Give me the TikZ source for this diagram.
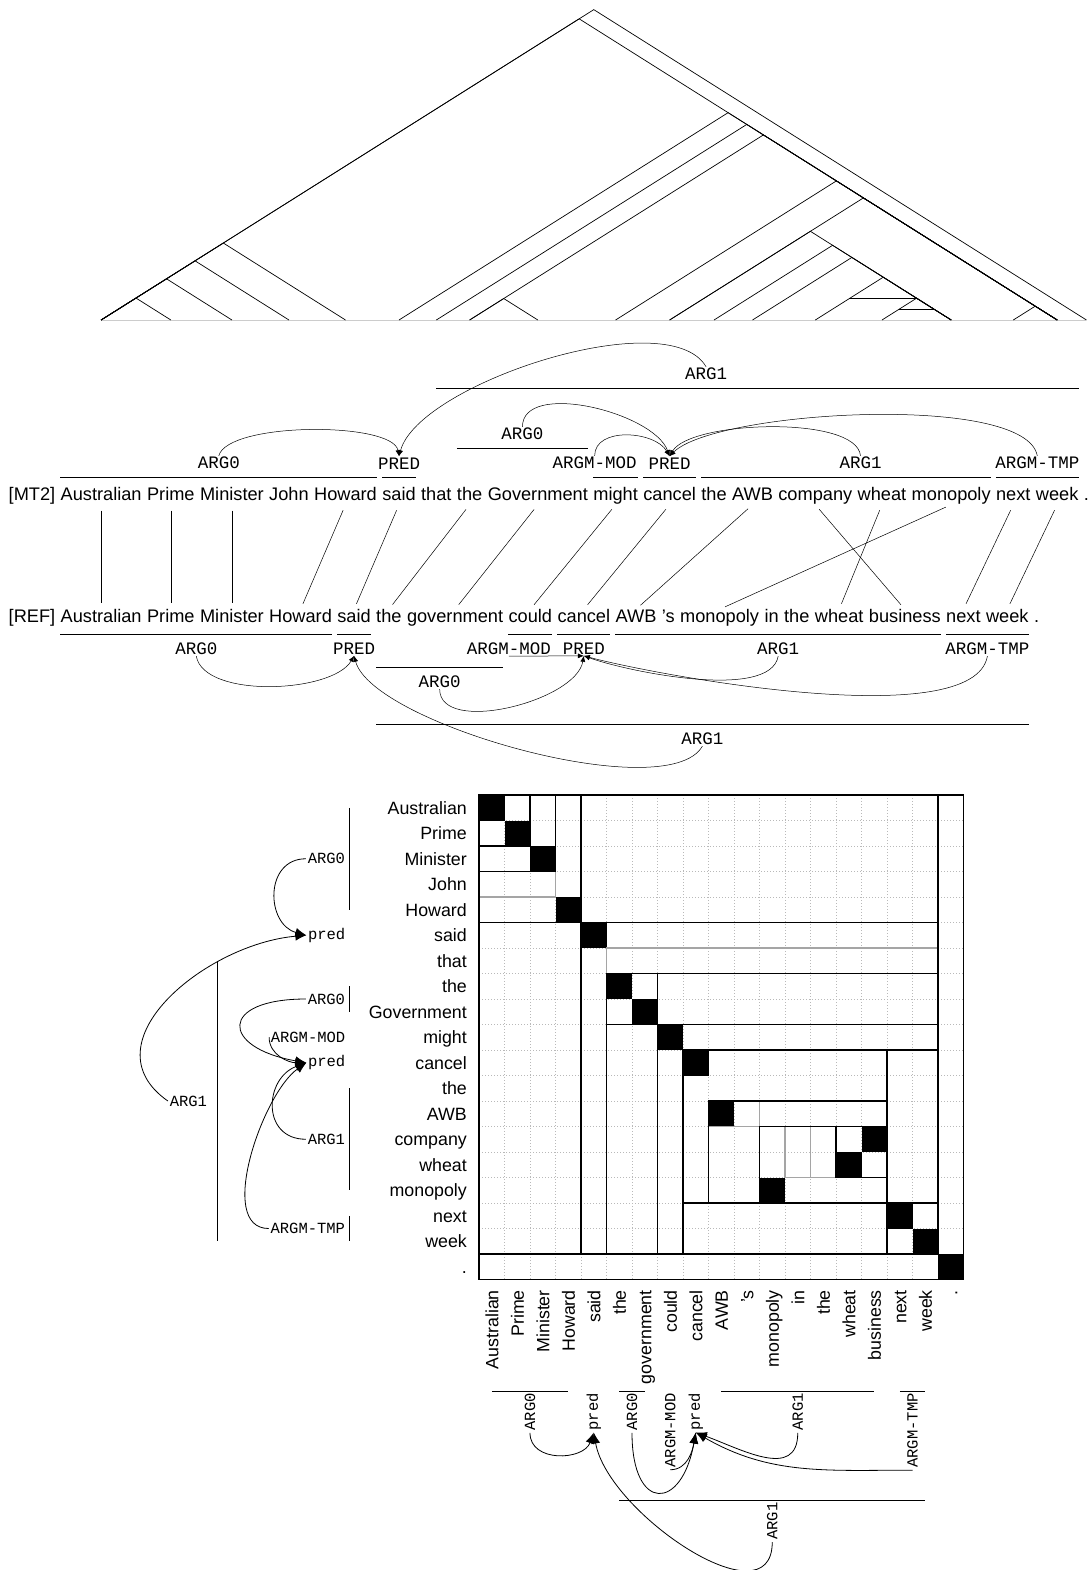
\documentclass[tikz,border=0pt]{standalone}
\usepackage{fontspec}
\setmainfont{Liberation Sans}
\setmonofont{Liberation Mono}
\usetikzlibrary{positioning,arrows.meta,calc}
\definecolor{gridgray}{RGB}{185,185,185}
\definecolor{boxgray}{RGB}{165,165,165}
\newcommand{\wordfont}{\fontsize{18.2pt}{20pt}\selectfont}
\newcommand{\rowfont}{\fontsize{17.8pt}{20pt}\selectfont}
\newcommand{\labfont}{\ttfamily\fontsize{17.5pt}{20pt}\selectfont}
\newcommand{\mlabfont}{\ttfamily\fontsize{15.5pt}{18pt}\selectfont}
\newcommand{\wsp}{5.06pt}
\newcommand{\subtree}[2]{\draw[treeline] let \p1=(t#1), \p2=(t#2) in (\p1) -- ({(\x1+\x2)/2},{\y1+0.63*(\x2-\x1)/2}) -- (\p2);}
\newcommand{\invtree}[2]{\subtree{#1}{#2}
  \draw[treeline] let \p1=(t#1), \p2=(t#2) in ({\x1+(\x2-\x1)/4},{\y1+0.63*(\x2-\x1)/4}) -- ({\x2-(\x2-\x1)/4},{\y1+0.63*(\x2-\x1)/4});}

\begin{document}
\begin{tikzpicture}[x=1pt, y=1pt,
    word/.style={font=\wordfont, inner sep=0pt, text height=13pt, text depth=4pt},
    lab/.style={font=\labfont, inner sep=1pt},
    mlab/.style={font=\mlabfont, inner sep=1.5pt},
    mrot/.style={font=\mlabfont, inner sep=2pt, rotate=90, anchor=east},
    rowlab/.style={font=\rowfont, inner sep=0pt, anchor=east, text height=13pt, text depth=0pt},
    collab/.style={font=\rowfont, inner sep=0pt, rotate=90, anchor=east, text height=13pt, text depth=0pt},
    span/.style={line width=0.8pt},
    treeline/.style={line width=0.7pt},
    align/.style={line width=0.5pt, shorten <=6pt, shorten >=6pt},
    arr/.style={-{Latex[length=6pt,width=5pt]}, line width=0.5pt},
    bigarr/.style={-{Latex[length=11pt,width=9pt]}, line width=0.8pt},
    gridline/.style={gridgray, dash pattern=on 1pt off 2pt, line width=0.5pt},
    blk/.style={line width=1.3pt},
    gblk/.style={boxgray, line width=1.3pt}]
  \useasboundingbox (0,0) rectangle (1088,-1570);

  \node[word, anchor=base west] (m0) at (8.5,-500.5) {[MT2]};
  \foreach \w [count=\i, remember=\i as \j (initially 0)] in {Australian,Prime,Minister,John,Howard,said,that,the,Government,might,cancel,the,AWB,company,wheat,monopoly,next,week,.}
    \node[word, base right=\wsp of m\j] (m\i) {\w};
  \node[word, anchor=base west] (r0) at (8.5,-622.5) {[REF]};
  \foreach \w [count=\i, remember=\i as \j (initially 0)] in {Australian,Prime,Minister,Howard,said,the,government,could,cancel,AWB,'s,monopoly,in,the,wheat,business,next,week,.}
    \node[word, base right=\wsp of r\j] (r\i) {\w};

  \foreach \a/\b in {1/1,2/2,3/3,5/4,6/5,8/6,9/7,10/8,11/9,13/10,14/16,15/15,16/12,17/17,18/18}
    \draw[align] (m\a.south) -- (r\b.north);

  \coordinate (base) at (0,-320);
  \foreach \i in {1,...,19}
    \coordinate (t\i) at (m\i |- base);
  \draw[gray!40, line width=0.8pt] (t1) -- (t19);
  \subtree{1}{19} \subtree{1}{18} \subtree{1}{5} \subtree{1}{4} \subtree{1}{3} \subtree{1}{2}
  \subtree{6}{18} \subtree{7}{18} \subtree{8}{18} \subtree{8}{9} \subtree{10}{18} \subtree{11}{18}
  \subtree{11}{16} \subtree{12}{16} \subtree{13}{16} \invtree{14}{16} \invtree{15}{16} \subtree{17}{18}

  \draw[span] ([yshift=23pt]m1.base west) -- ([yshift=23pt]m5.base east) node[midway, above=7pt, lab] (mta0) {ARG0};
  \draw[span] ([yshift=23pt]m6.base west) -- ([yshift=23pt]m6.base east) node[midway, above=7pt, lab] (mtp1) {PRED};
  \draw[span] ([yshift=112pt]m7.base) -- ([yshift=112pt]m18.base east) node[pos=0.42, above=7pt, lab] (mtA1) {ARG1};
  \draw[span] ([yshift=52pt]m8.base west) -- ([yshift=52pt]m9.base east) node[midway, above=7pt, lab] (mtb0) {ARG0};
  \draw[span] ([yshift=23pt]m10.base west) -- ([yshift=23pt]m10.base east) node[pos=1, anchor=south east, yshift=7pt, lab] (mtmod) {ARGM-MOD};
  \draw[span] ([yshift=23pt]m11.base west) -- ([yshift=23pt]m11.base east) node[midway, above=7pt, lab] (mtp2) {PRED};
  \draw[span] ([yshift=23pt]m12.base west) -- ([yshift=23pt]m16.base east) node[pos=0.55, above=7pt, lab] (mta1) {ARG1};
  \draw[span] ([yshift=23pt]m17.base west) -- ([yshift=23pt]m18.base east) node[midway, above=7pt, lab] (mttmp) {ARGM-TMP};
  \draw[arr] (mta0.north) to[out=75, in=100, looseness=0.5] (mtp1.north);
  \draw[arr] (mtA1.north) to[out=120, in=75, looseness=0.6] (mtp1.north);
  \draw[arr] (mtb0.north) to[out=90, in=110, looseness=0.8] (mtp2.north);
  \draw[arr] (mtmod.north) to[out=90, in=120] (mtp2.north);
  \draw[arr] (mta1.north) to[out=95, in=60, looseness=0.55] (mtp2.north);
  \draw[arr] (mttmp.north) to[out=100, in=45, looseness=0.45] (mtp2.north);

  \draw[span] ([yshift=-12pt]r1.base west) -- ([yshift=-12pt]r4.base east) node[midway, below=7pt, lab] (refa0) {ARG0};
  \draw[span] ([yshift=-12pt]r5.base west) -- ([yshift=-12pt]r5.base east) node[midway, below=7pt, lab] (refp1) {PRED};
  \draw[span] ([yshift=-45pt]r6.base west) -- ([yshift=-45pt]r7.base east) node[midway, below=7pt, lab] (refb0) {ARG0};
  \draw[span] ([yshift=-12pt]r8.base west) -- ([yshift=-12pt]r8.base east) node[pos=1, anchor=north east, yshift=-7pt, lab] (refmod) {ARGM-MOD};
  \draw[span] ([yshift=-12pt]r9.base west) -- ([yshift=-12pt]r9.base east) node[midway, below=7pt, lab] (refp2) {PRED};
  \draw[span] ([yshift=-12pt]r10.base west) -- ([yshift=-12pt]r16.base east) node[midway, below=7pt, lab] (refa1) {ARG1};
  \draw[span] ([yshift=-12pt]r17.base west) -- ([yshift=-12pt]r18.base east) node[midway, below=7pt, lab] (reftmp) {ARGM-TMP};
  \draw[span] ([yshift=-102pt]r6.base west) -- ([yshift=-102pt]r18.base east) node[midway, below=7pt, lab] (refA1) {ARG1};
  \draw[arr] (refa0.south) to[out=-80, in=-120, looseness=0.7] (refp1.south);
  \draw[arr] (refA1.south) to[out=-120, in=-75, looseness=0.5] (refp1.south);
  \draw[arr] (refb0.south) to[out=-90, in=-100, looseness=0.8] (refp2.south);
  \draw[arr] (refmod.south) -- (refp2.south);
  \draw[arr] (refa1.south) to[out=-100, in=-20, looseness=0.6] (refp2.south);
  \draw[arr] (reftmp.south) to[out=-100, in=-15, looseness=0.5] (refp2.south);

  \begin{scope}[shift={(479,-795)}, x=25.5pt, y=25.5pt]
    \foreach \k in {1,...,18} {
      \draw[gridline] (\k,0) -- (\k,-19);
      \draw[gridline] (0,-\k) -- (19,-\k);
    }
    \foreach \r/\c in {1/1,2/2,3/3,5/4,6/5,8/6,9/7,10/8,11/9,13/10,14/16,15/15,16/12,17/17,18/18,19/19}
      \fill (\c-1,-\r+1) rectangle (\c,-\r);
    \foreach \ra/\rb/\ca/\cb in {1/4/1/3, 7/18/6/18, 13/13/10/11, 14/15/13/16, 14/15/14/16}
      \draw[gblk] (\ca-1,-\ra+1) rectangle (\cb,-\rb);
    \foreach \ra/\rb/\ca/\cb in {1/2/1/2, 1/3/1/3, 1/5/1/4, 6/18/5/18, 8/18/6/18, 8/9/6/7, 10/18/8/18, 11/18/9/18, 11/16/9/16, 17/18/17/18, 13/16/10/16, 14/16/12/16, 14/15/15/16, 1/18/1/18, 1/19/1/19}
      \draw[blk] (\ca-1,-\ra+1) rectangle (\cb,-\rb);

    \foreach \w [count=\i] in {Australian,Prime,Minister,John,Howard,said,that,the,Government,might,cancel,the,AWB,company,wheat,monopoly,next,week,.}
      \node[rowlab] (row\i) at (-0.47,0.5-\i) {\w};
    \foreach \w [count=\i] in {Australian,Prime,Minister,Howard,said,the,government,could,cancel,AWB,'s,monopoly,in,the,wheat,business,next,week,.}
      \node[collab] (col\i) at (\i-0.5,-19.41) {\w};

    \draw[span] (-5.1,-0.5) -- (-5.1,-4.5) node[midway, left=2pt, mlab] (lma0) {ARG0};
    \node[mlab, left=2pt] (lmp1) at (-5.1,-5.5) {pred};
    \draw[span] (-5.1,-7.5) -- (-5.1,-8.5) node[midway, left=2pt, mlab] (lmb0) {ARG0};
    \node[mlab, left=2pt] (lmmod) at (-5.1,-9.5) {ARGM-MOD};
    \node[mlab, left=2pt] (lmp2) at (-5.1,-10.5) {pred};
    \draw[span] (-5.1,-11.5) -- (-5.1,-15.5) node[midway, left=2pt, mlab] (lma1) {ARG1};
    \draw[span] (-5.1,-16.5) -- (-5.1,-17.5) node[midway, left=2pt, mlab] (lmtmp) {ARGM-TMP};
    \draw[span] (-10.24,-6.5) -- (-10.24,-17.5) node[midway, left=9pt, mlab] (lmA1) {ARG1};
    \draw[bigarr] (lma0.west) to[out=180, in=165, looseness=1.4] (lmp1.west);
    \draw[bigarr] (lmA1.west) to[out=145, in=185, looseness=1.2] (lmp1.west);
    \draw[bigarr] (lmb0.west) to[out=180, in=170, looseness=3.5] (lmp2.west);
    \draw[bigarr] (lmmod.west) to[out=-90, in=180] (lmp2.west);
    \draw[bigarr] (lma1.west) to[out=180, in=200, looseness=1.5] (lmp2.west);
    \draw[bigarr] (lmtmp.west) to[out=180, in=215, looseness=0.8] (lmp2.west);

    \draw[span] (0.5,-23.37) -- (3.5,-23.37) node[midway, mrot] (bma0) {ARG0};
    \node[mrot] (bmp1) at (4.5,-23.37) {pred};
    \draw[span] (5.5,-23.37) -- (6.5,-23.37) node[midway, mrot] (bmb0) {ARG0};
    \node[mrot] (bmmod) at (7.5,-23.37) {ARGM-MOD};
    \node[mrot] (bmp2) at (8.5,-23.37) {pred};
    \draw[span] (9.5,-23.37) -- (15.5,-23.37) node[midway, mrot] (bma1) {ARG1};
    \draw[span] (16.5,-23.37) -- (17.5,-23.37) node[midway, mrot] (bmtmp) {ARGM-TMP};
    \draw[span] (5.5,-27.65) -- (17.5,-27.65) node[midway, mrot] (bmA1) {ARG1};
    \draw[bigarr] (bma0.west) to[out=-90, in=-110, looseness=1.2] (bmp1.west);
    \draw[bigarr] (bmA1.west) to[out=-90, in=-80, looseness=1.0] (bmp1.west);
    \draw[bigarr] (bmb0.west) to[out=-90, in=-100, looseness=3.2] (bmp2.west);
    \draw[bigarr] (bmmod.west) to[out=0, in=-100] (bmp2.west);
    \draw[bigarr] (bma1.west) to[out=-90, in=-20, looseness=1.2] (bmp2.west);
    \draw[bigarr] (bmtmp.west) to[out=180, in=-30] (bmp2.west);
  \end{scope}
\end{tikzpicture}
\end{document}
